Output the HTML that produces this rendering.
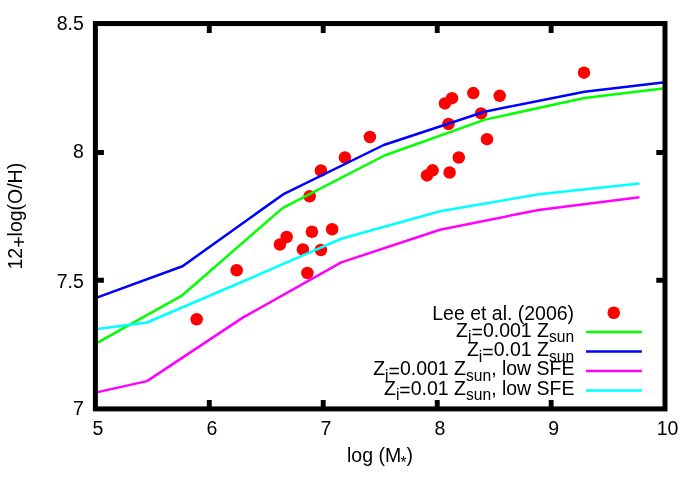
<!DOCTYPE html>
<html><head><meta charset="utf-8">
<style>
html,body{margin:0;padding:0;background:#fff;}
svg{display:block;will-change:transform;}
text{font-family:"Liberation Sans",sans-serif;font-size:19.5px;fill:#000;}
.sub{font-size:15.6px;}
</style></head>
<body>
<svg width="700" height="491" viewBox="0 0 700 491">
<rect width="700" height="491" fill="#fff"/>
<!-- points -->
<g fill="#ff0000">
<circle cx="196.65" cy="319.25" r="6.25"/>
<circle cx="236.65" cy="270.25" r="6.25"/>
<circle cx="279.90" cy="244.50" r="6.25"/>
<circle cx="286.65" cy="237.00" r="6.25"/>
<circle cx="302.90" cy="249.50" r="6.25"/>
<circle cx="307.40" cy="273.00" r="6.25"/>
<circle cx="309.65" cy="196.25" r="6.25"/>
<circle cx="311.90" cy="231.75" r="6.25"/>
<circle cx="320.90" cy="170.50" r="6.25"/>
<circle cx="320.90" cy="250.00" r="6.25"/>
<circle cx="332.15" cy="229.25" r="6.25"/>
<circle cx="344.90" cy="157.50" r="6.25"/>
<circle cx="369.90" cy="137.00" r="6.25"/>
<circle cx="427.00" cy="175.40" r="6.25"/>
<circle cx="432.60" cy="170.30" r="6.25"/>
<circle cx="449.60" cy="172.50" r="6.25"/>
<circle cx="458.80" cy="157.50" r="6.25"/>
<circle cx="487.00" cy="139.20" r="6.25"/>
<circle cx="448.50" cy="124.00" r="6.25"/>
<circle cx="481.10" cy="113.40" r="6.25"/>
<circle cx="444.90" cy="103.40" r="6.25"/>
<circle cx="452.00" cy="98.20" r="6.25"/>
<circle cx="473.30" cy="93.10" r="6.25"/>
<circle cx="499.70" cy="95.80" r="6.25"/>
<circle cx="584.00" cy="72.65" r="6.25"/>
<circle cx="613.75" cy="312.75" r="6.3"/>
</g>
<!-- curves -->
<g fill="none" stroke-width="2.5" stroke-linejoin="round" stroke-linecap="butt">
<polyline stroke="#00ff00" points="95.4,343.9 182.3,295.3 282.5,208.1 384.5,155.5 485,119.6 584.5,98 665,88.3"/>
<line stroke="#00ff00" x1="586" y1="332.1" x2="641.9" y2="332.1"/>
<polyline stroke="#0000ff" points="95.4,298.1 182.5,266.25 283,194.4 383.75,145 484.5,111.7 584.5,91.7 665,82.3"/>
<line stroke="#0000ff" x1="586" y1="351.4" x2="641.9" y2="351.4"/>
<polyline stroke="#ff00ff" points="95.4,392.6 147,381.1 243.2,317.4 341.25,262.4 440,229.7 538.5,210 639.5,197.15"/>
<line stroke="#ff00ff" x1="586" y1="371" x2="641.9" y2="371"/>
<polyline stroke="#00ffff" points="95.5,329.3 147,322.5 244,281 341.25,238.75 440,211.2 539,194.3 639.5,183.4"/>
<line stroke="#00ffff" x1="586" y1="390.5" x2="641.9" y2="390.5"/>
</g>
<!-- frame & ticks -->
<g stroke="#000" stroke-width="5" fill="none" stroke-linecap="butt">
<rect x="95.4" y="23.55" width="569.6" height="385.35"/>
</g>
<g stroke="#000" stroke-width="4.9" fill="none" stroke-linecap="butt">
<path d="M209.3,408.9V400.1 M323.2,408.9V400.1 M437.25,408.9V400.1 M551.15,408.9V400.1"/>
<path d="M209.3,23.55V32.9 M323.2,23.55V32.9 M437.25,23.55V32.9 M551.15,23.55V32.9"/>
<path d="M95.4,280.3H103.9 M95.4,152.5H103.9 M665,280.3H656.3 M665,152.5H656.3"/>
</g>
<!-- tick labels -->
<text transform="translate(83.8,415.2) scale(1,1.04)" text-anchor="end">7</text>
<text transform="translate(83.8,288) scale(1,1.04)" text-anchor="end">7.5</text>
<text transform="translate(83.8,158.4) scale(1,1.04)" text-anchor="end">8</text>
<text transform="translate(83.8,30.1) scale(1,1.04)" text-anchor="end">8.5</text>
<text transform="translate(98,435.3) scale(1,1.04)" text-anchor="middle">5</text>
<text transform="translate(211.9,435.3) scale(1,1.04)" text-anchor="middle">6</text>
<text transform="translate(325.8,435.3) scale(1,1.04)" text-anchor="middle">7</text>
<text transform="translate(439.8,435.3) scale(1,1.04)" text-anchor="middle">8</text>
<text transform="translate(553.7,435.3) scale(1,1.04)" text-anchor="middle">9</text>
<text transform="translate(667.5,435.3) scale(1,1.04)" text-anchor="middle">10</text>
<text transform="translate(347,462.3) scale(1,1.04)">log (M<tspan class="sub" dx="-0.6" dy="5.4">*</tspan><tspan dy="-5.4">)</tspan></text>
<text transform="translate(22.4,269.5) rotate(-90) scale(1,1.04)">12<tspan dy="3.86">+</tspan><tspan dy="-3.86">log(O/H)</tspan></text>
<!-- legend -->
<text transform="translate(574.1,319.5) scale(1,1.04)" text-anchor="end">Lee et al. (2006)</text>
<text transform="translate(574.1,336.5) scale(1,1.04)" text-anchor="end">Z<tspan class="sub" dy="5.58">i</tspan><tspan dy="-2.79">=</tspan><tspan dy="-2.79">0.001 Z</tspan><tspan class="sub" dy="5.58">sun</tspan></text>
<text transform="translate(574.1,356) scale(1,1.04)" text-anchor="end">Z<tspan class="sub" dy="5.58">i</tspan><tspan dy="-2.79">=</tspan><tspan dy="-2.79">0.01 Z</tspan><tspan class="sub" dy="5.58">sun</tspan></text>
<text transform="translate(574.5,375.25) scale(1,1.04)" text-anchor="end">Z<tspan class="sub" dy="5.58">i</tspan><tspan dy="-2.79">=</tspan><tspan dy="-2.79">0.001 Z</tspan><tspan class="sub" dy="5.58">sun</tspan><tspan dy="-5.58">, low SFE</tspan></text>
<text transform="translate(574.5,394.5) scale(1,1.04)" text-anchor="end">Z<tspan class="sub" dy="5.58">i</tspan><tspan dy="-2.79">=</tspan><tspan dy="-2.79">0.01 Z</tspan><tspan class="sub" dy="5.58">sun</tspan><tspan dy="-5.58">, low SFE</tspan></text>
</svg>
</body></html>
